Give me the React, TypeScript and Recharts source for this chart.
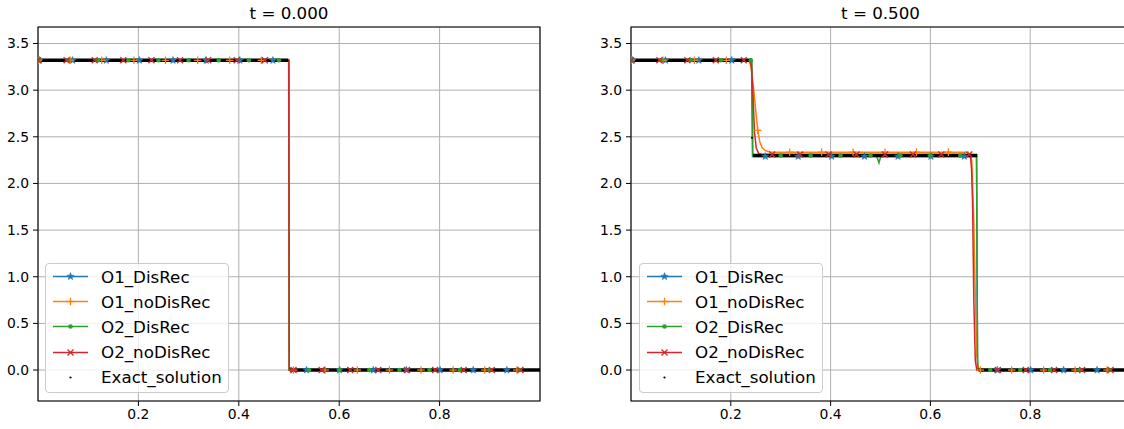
import React from "react";
import {
  ComposedChart,
  Line,
  Scatter,
  XAxis,
  YAxis,
  CartesianGrid,
  ReferenceArea,
} from "recharts";

type Pt = { x: number; y: number | null };

const FONT = '"DejaVu Sans", "Liberation Sans", sans-serif';

// axes
const xTicks = [0.2, 0.4, 0.6, 0.8];
const yTicks = [0, 0.5, 1, 1.5, 2, 2.5, 3, 3.5];
const xDomain: [number, number] = [0, 1];
const yDomain: [number, number] = [-0.332, 3.677];

// series
const seriesNames = ["O1_DisRec", "O1_noDisRec", "O2_DisRec", "O2_noDisRec", "Exact_solution"];
const seriesColors = ["#1f77b4", "#ff7f0e", "#2ca02c", "#d62728", "#000000"];
const seriesMarkers = ["star", "plus", "dot", "cross", "point"];

// ---------- t = 0.000 ----------
const o1DisRec0: Pt[] = [{ x: 0, y: 3.32 }, { x: 0.4995, y: 3.32 }, { x: 0.5005, y: 0 }, { x: 1, y: 0 }];
const o1NoDisRec0: Pt[] = [{ x: 0, y: 3.32 }, { x: 0.4992, y: 3.32 }, { x: 0.5005, y: 0 }, { x: 1, y: 0 }];
const o2DisRec0: Pt[] = [{ x: 0, y: 3.32 }, { x: 0.4995, y: 3.32 }, { x: 0.5005, y: 0 }, { x: 1, y: 0 }];
const o2NoDisRec0: Pt[] = [{ x: 0, y: 3.32 }, { x: 0.4995, y: 3.32 }, { x: 0.5005, y: 0 }, { x: 1, y: 0 }];
const exact0: Pt[] = [
  { x: 0, y: 3.32 }, { x: 0.4985, y: 3.32 }, { x: 0.5, y: null },
  { x: 0.5015, y: 0 }, { x: 1, y: 0 },
];
const exactDots0: Pt[] = [];

const o1DisRecMarks0: Pt[] = [
  { x: 0.003, y: 3.32 }, { x: 0.069, y: 3.32 }, { x: 0.136, y: 3.32 }, { x: 0.202, y: 3.32 },
  { x: 0.269, y: 3.32 }, { x: 0.335, y: 3.32 }, { x: 0.402, y: 3.32 }, { x: 0.468, y: 3.32 },
  { x: 0.535, y: 0 }, { x: 0.601, y: 0 }, { x: 0.668, y: 0 }, { x: 0.734, y: 0 },
  { x: 0.801, y: 0 }, { x: 0.867, y: 0 }, { x: 0.934, y: 0 },
];
const o1NoDisRecMarks0: Pt[] = [
  { x: 0.0, y: 3.32 }, { x: 0.064, y: 3.32 }, { x: 0.127, y: 3.32 }, { x: 0.191, y: 3.32 },
  { x: 0.254, y: 3.32 }, { x: 0.318, y: 3.32 }, { x: 0.382, y: 3.32 }, { x: 0.445, y: 3.32 },
  { x: 0.509, y: 0 }, { x: 0.572, y: 0 }, { x: 0.636, y: 0 }, { x: 0.7, y: 0 },
  { x: 0.763, y: 0 }, { x: 0.827, y: 0 }, { x: 0.89, y: 0 }, { x: 0.954, y: 0 },
];
const o2DisRecMarks0: Pt[] = [
  { x: 0.0, y: 3.32 }, { x: 0.06, y: 3.32 }, { x: 0.12, y: 3.32 }, { x: 0.18, y: 3.32 },
  { x: 0.24, y: 3.32 }, { x: 0.3, y: 3.32 }, { x: 0.36, y: 3.32 }, { x: 0.42, y: 3.32 },
  { x: 0.48, y: 3.32 }, { x: 0.54, y: 0 }, { x: 0.6, y: 0 }, { x: 0.66, y: 0 },
  { x: 0.72, y: 0 }, { x: 0.78, y: 0 }, { x: 0.84, y: 0 }, { x: 0.9, y: 0 }, { x: 0.96, y: 0 },
];
const o2NoDisRecMarks0: Pt[] = [
  { x: 0.0, y: 3.32 }, { x: 0.057, y: 3.32 }, { x: 0.113, y: 3.32 }, { x: 0.17, y: 3.32 },
  { x: 0.226, y: 3.32 }, { x: 0.283, y: 3.32 }, { x: 0.339, y: 3.32 }, { x: 0.396, y: 3.32 },
  { x: 0.452, y: 3.32 }, { x: 0.509, y: 0 }, { x: 0.565, y: 0 }, { x: 0.622, y: 0 },
  { x: 0.678, y: 0 }, { x: 0.735, y: 0 }, { x: 0.791, y: 0 }, { x: 0.848, y: 0 },
  { x: 0.904, y: 0 }, { x: 0.961, y: 0 },
];

// ---------- t = 0.500 ----------
const o1DisRec5: Pt[] = [
  { x: 0, y: 3.32 }, { x: 0.2415, y: 3.32 }, { x: 0.2435, y: 2.29 },
  { x: 0.6925, y: 2.29 }, { x: 0.6945, y: 0 }, { x: 1, y: 0 },
];
const o1NoDisRec5: Pt[] = [
  { x: 0, y: 3.32 }, { x: 0.232, y: 3.32 }, { x: 0.238, y: 3.3 }, { x: 0.242, y: 3.2 },
  { x: 0.246, y: 3.0 }, { x: 0.25, y: 2.78 }, { x: 0.254, y: 2.57 }, { x: 0.258, y: 2.45 },
  { x: 0.263, y: 2.38 }, { x: 0.27, y: 2.35 }, { x: 0.28, y: 2.335 }, { x: 0.676, y: 2.335 },
  { x: 0.683, y: 2.25 }, { x: 0.687, y: 1.6 }, { x: 0.69, y: 0.8 }, { x: 0.693, y: 0.15 },
  { x: 0.697, y: 0 }, { x: 1, y: 0 },
];
const o2DisRec5: Pt[] = [
  { x: 0, y: 3.32 }, { x: 0.242, y: 3.32 }, { x: 0.2435, y: 3.0 }, { x: 0.244, y: 2.3 },
  { x: 0.49, y: 2.3 }, { x: 0.494, y: 2.27 }, { x: 0.497, y: 2.22 }, { x: 0.5, y: 2.28 },
  { x: 0.503, y: 2.3 }, { x: 0.6925, y: 2.3 }, { x: 0.6945, y: 0.05 }, { x: 0.696, y: 0 },
  { x: 1, y: 0 },
];
const o2NoDisRec5: Pt[] = [
  { x: 0, y: 3.32 }, { x: 0.238, y: 3.32 }, { x: 0.2415, y: 3.25 }, { x: 0.2445, y: 2.95 },
  { x: 0.2475, y: 2.55 }, { x: 0.251, y: 2.38 }, { x: 0.256, y: 2.32 }, { x: 0.262, y: 2.31 },
  { x: 0.68, y: 2.31 }, { x: 0.6825, y: 2.15 }, { x: 0.6845, y: 1.8 }, { x: 0.687, y: 0.75 },
  { x: 0.69, y: 0.1 }, { x: 0.693, y: 0 }, { x: 1, y: 0 },
];
const exact5: Pt[] = [
  { x: 0, y: 3.32 }, { x: 0.242, y: 3.32 }, { x: 0.243, y: null },
  { x: 0.2445, y: 2.3 }, { x: 0.694, y: 2.3 }, { x: 0.695, y: null },
  { x: 0.6965, y: 0 }, { x: 1, y: 0 },
];
const exactDots5: Pt[] = [{ x: 0.2425, y: 2.49 }];

const o1DisRecMarks5: Pt[] = [
  { x: 0.003, y: 3.32 }, { x: 0.069, y: 3.32 }, { x: 0.136, y: 3.32 }, { x: 0.202, y: 3.32 },
  { x: 0.269, y: 2.29 }, { x: 0.335, y: 2.29 }, { x: 0.402, y: 2.29 }, { x: 0.468, y: 2.29 },
  { x: 0.535, y: 2.29 }, { x: 0.601, y: 2.29 }, { x: 0.668, y: 2.29 }, { x: 0.734, y: 0 },
  { x: 0.801, y: 0 }, { x: 0.867, y: 0 }, { x: 0.934, y: 0 },
];
const o1NoDisRecMarks5: Pt[] = [
  { x: 0.0, y: 3.32 }, { x: 0.064, y: 3.32 }, { x: 0.127, y: 3.32 }, { x: 0.191, y: 3.32 },
  { x: 0.254, y: 2.57 }, { x: 0.318, y: 2.335 }, { x: 0.382, y: 2.335 }, { x: 0.445, y: 2.335 },
  { x: 0.509, y: 2.335 }, { x: 0.572, y: 2.335 }, { x: 0.636, y: 2.335 }, { x: 0.7, y: 0 },
  { x: 0.763, y: 0 }, { x: 0.827, y: 0 }, { x: 0.89, y: 0 }, { x: 0.954, y: 0 },
];
const o2DisRecMarks5: Pt[] = [
  { x: 0.0, y: 3.32 }, { x: 0.06, y: 3.32 }, { x: 0.12, y: 3.32 }, { x: 0.18, y: 3.32 },
  { x: 0.24, y: 3.32 }, { x: 0.3, y: 2.3 }, { x: 0.36, y: 2.3 }, { x: 0.42, y: 2.3 },
  { x: 0.48, y: 2.3 }, { x: 0.54, y: 2.3 }, { x: 0.6, y: 2.3 }, { x: 0.66, y: 2.3 },
  { x: 0.72, y: 0 }, { x: 0.78, y: 0 }, { x: 0.84, y: 0 }, { x: 0.9, y: 0 }, { x: 0.96, y: 0 },
];
const o2NoDisRecMarks5: Pt[] = [
  { x: 0.0, y: 3.32 }, { x: 0.057, y: 3.32 }, { x: 0.113, y: 3.32 }, { x: 0.17, y: 3.32 },
  { x: 0.226, y: 3.32 }, { x: 0.283, y: 2.31 }, { x: 0.339, y: 2.31 }, { x: 0.396, y: 2.31 },
  { x: 0.452, y: 2.31 }, { x: 0.509, y: 2.31 }, { x: 0.565, y: 2.31 }, { x: 0.622, y: 2.31 },
  { x: 0.678, y: 2.31 }, { x: 0.735, y: 0 }, { x: 0.791, y: 0 }, { x: 0.848, y: 0 },
  { x: 0.904, y: 0 }, { x: 0.961, y: 0 },
];

// matplotlib-like marker glyphs
const Marker = ({ kind, cx, cy, color }: { kind: string; cx: number; cy: number; color: string }) => {
  if (cx == null || cy == null) return null;
  if (kind === "star") {
    const pts: string[] = [];
    for (let i = 0; i < 10; i++) {
      const a = (-90 + i * 36) * (Math.PI / 180);
      const r = i % 2 === 0 ? 3.9 : 1.6;
      pts.push(`${cx + r * Math.cos(a)},${cy + r * Math.sin(a)}`);
    }
    return <polygon points={pts.join(" ")} fill={color} stroke={color} strokeWidth={0.5} />;
  }
  if (kind === "plus") {
    return (
      <g stroke={color} strokeWidth={1.3}>
        <line x1={cx - 3.8} y1={cy} x2={cx + 3.8} y2={cy} />
        <line x1={cx} y1={cy - 3.8} x2={cx} y2={cy + 3.8} />
      </g>
    );
  }
  if (kind === "dot") return <circle cx={cx} cy={cy} r={2.3} fill={color} />;
  if (kind === "cross") {
    return (
      <g stroke={color} strokeWidth={1.3}>
        <line x1={cx - 3} y1={cy - 3} x2={cx + 3} y2={cy + 3} />
        <line x1={cx - 3} y1={cy + 3} x2={cx + 3} y2={cy - 3} />
      </g>
    );
  }
  return <circle cx={cx} cy={cy} r={1.1} fill={color} />;
};

const LegendBox = ({ left }: { left: number }) => (
  <div
    style={{
      position: "absolute",
      left,
      top: 263,
      width: 184,
      height: 130,
      boxSizing: "border-box",
      border: "1px solid #cccccc",
      borderRadius: 4,
      background: "rgba(255,255,255,0.8)",
      fontFamily: FONT,
      fontSize: 16.7,
      color: "#000",
    }}
  >
    {seriesNames.map((name, i) => (
      <div
        key={name}
        style={{ position: "absolute", left: 0, top: i * 25.2, height: 25, display: "flex", alignItems: "center" }}
      >
        <svg width={55} height={25} style={{ display: "block" }}>
          {i < 4 && <line x1={7} x2={42} y1={12.5} y2={12.5} stroke={seriesColors[i]} strokeWidth={1.5} />}
          <Marker kind={seriesMarkers[i]} cx={24.5} cy={12.5} color={seriesColors[i]} />
        </svg>
        <span style={{ whiteSpace: "nowrap" }}>{name}</span>
      </div>
    ))}
  </div>
);

type PanelProps = {
  left: number;
  plotWidth: number;
  title: string;
  lines: Pt[][];
  marks: Pt[][];
  exact: Pt[];
  exactDots: Pt[];
};

const tickStyle = { fill: "#000", fontSize: 13.9, fontFamily: FONT };

const Panel = ({ left, plotWidth, title, lines, marks, exact, exactDots }: PanelProps) => {
  const width = 38 + plotWidth + 5;
  return (
    <>
      <div
        style={{
          position: "absolute",
          left: left + 38 + plotWidth / 2 - 100,
          top: 3,
          width: 200,
          textAlign: "center",
          fontFamily: FONT,
          fontSize: 16.7,
          color: "#000",
        }}
      >
        {title}
      </div>
      <div style={{ position: "absolute", left, top: 0 }}>
        <ComposedChart width={width} height={429} margin={{ top: 27, right: 5, bottom: 0, left: 0 }}>
          <CartesianGrid stroke="#b0b0b0" strokeWidth={1} />
          <XAxis
            type="number"
            dataKey="x"
            domain={xDomain}
            ticks={xTicks}
            allowDataOverflow
            height={28}
            tickSize={5}
            tickMargin={3}
            axisLine={false}
            tickLine={{ stroke: "#000" }}
            tick={tickStyle}
            tickFormatter={(v: number) => v.toFixed(1)}
          />
          <YAxis
            type="number"
            dataKey="y"
            domain={yDomain}
            ticks={yTicks}
            allowDataOverflow
            width={38}
            tickSize={5}
            tickMargin={4}
            axisLine={false}
            tickLine={{ stroke: "#000" }}
            tick={tickStyle}
            tickFormatter={(v: number) => v.toFixed(1)}
          />
          {lines.map((d, i) => (
            <Line
              key={`line-${i}`}
              data={d}
              dataKey="y"
              type="linear"
              stroke={seriesColors[i]}
              strokeWidth={1.5}
              dot={false}
              activeDot={false}
              isAnimationActive={false}
            />
          ))}
          {marks.map((d, i) => (
            <Scatter
              key={`marks-${i}`}
              data={d}
              isAnimationActive={false}
              shape={(p: any) => <Marker kind={seriesMarkers[i]} cx={p.cx} cy={p.cy} color={seriesColors[i]} />}
            />
          ))}
          <Line
            data={exact}
            dataKey="y"
            type="linear"
            stroke="#000"
            strokeWidth={3.6}
            dot={false}
            activeDot={false}
            connectNulls={false}
            isAnimationActive={false}
          />
          <Scatter
            data={exactDots}
            isAnimationActive={false}
            shape={(p: any) => <Marker kind="point" cx={p.cx} cy={p.cy} color="#000" />}
          />
          <ReferenceArea
            x1={xDomain[0]}
            x2={xDomain[1]}
            y1={yDomain[0]}
            y2={yDomain[1]}
            fill="none"
            stroke="#000"
            strokeWidth={1.1}
            ifOverflow="visible"
          />
        </ComposedChart>
      </div>
    </>
  );
};

export default function App() {
  return (
    <div
      style={{
        position: "absolute",
        left: 0,
        top: 0,
        width: 1124,
        height: 429,
        overflow: "hidden",
        background: "#fff",
      }}
    >
      <Panel
        left={0}
        plotWidth={502}
        title="t = 0.000"
        lines={[o1DisRec0, o1NoDisRec0, o2DisRec0, o2NoDisRec0]}
        marks={[o1DisRecMarks0, o1NoDisRecMarks0, o2DisRecMarks0, o2NoDisRecMarks0]}
        exact={exact0}
        exactDots={exactDots0}
      />
      <Panel
        left={593}
        plotWidth={499}
        title="t = 0.500"
        lines={[o1DisRec5, o1NoDisRec5, o2DisRec5, o2NoDisRec5]}
        marks={[o1DisRecMarks5, o1NoDisRecMarks5, o2DisRecMarks5, o2NoDisRecMarks5]}
        exact={exact5}
        exactDots={exactDots5}
      />
      <LegendBox left={45} />
      <LegendBox left={639} />
    </div>
  );
}
